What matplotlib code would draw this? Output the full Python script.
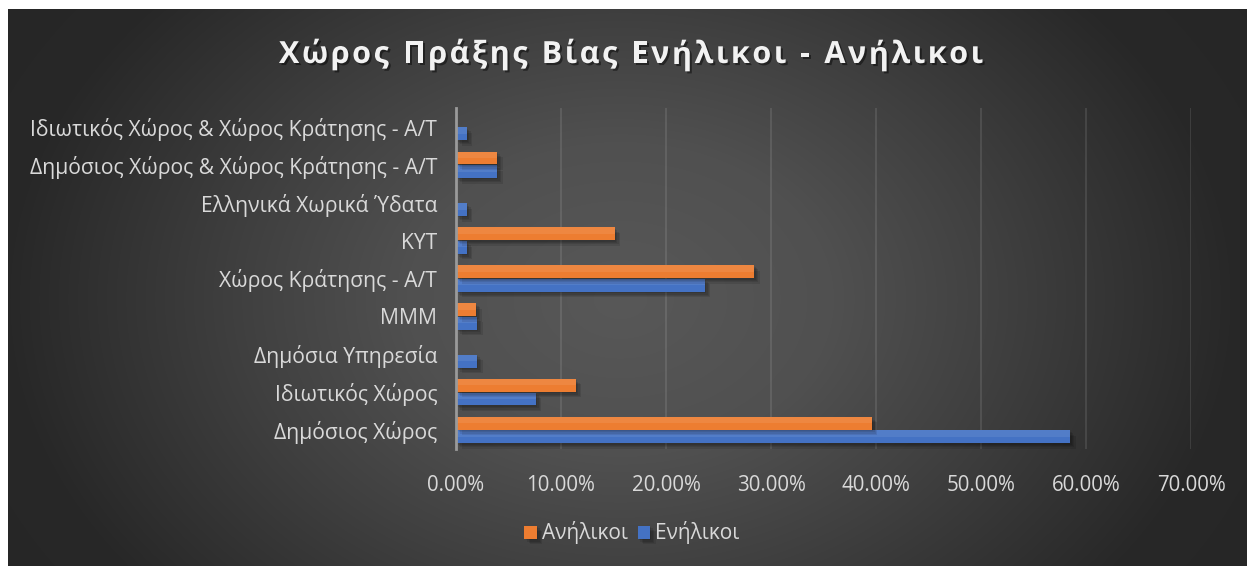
import matplotlib
matplotlib.use('Agg')
import matplotlib.pyplot as plt
import matplotlib.patheffects as pe
from matplotlib.ticker import FuncFormatter
import numpy as np

plt.rcParams['font.family'] = ['Open Sans', 'DejaVu Sans']

# ── data ────────────────────────────────────────────────────────────────────
places = ['Δημόσιος Χώρος', 'Ιδιωτικός Χώρος', 'Δημόσια Υπηρεσία', 'ΜΜΜ',
          'Χώρος Κράτησης - Α/Τ', 'ΚΥΤ', 'Ελληνικά Χωρικά Ύδατα',
          'Δημόσιος Χώρος & Χώρος Κράτησης - Α/Τ',
          'Ιδιωτικός Χώρος & Χώρος Κράτησης - Α/Τ']
adults = [0.585, 0.076, 0.020, 0.020, 0.237, 0.010, 0.010, 0.039, 0.010]   # Ενήλικοι
minors = [0.396, 0.114, 0.0, 0.019, 0.284, 0.151, 0.0, 0.039, 0.0]        # Ανήλικοι
xticks = [0.0, 0.1, 0.2, 0.3, 0.4, 0.5, 0.6, 0.7]
title = 'Χώρος Πράξης Βίας Ενήλικοι - Ανήλικοι'

ORANGE = '#ED7D31'
BLUE = '#4472C4'
TXT = '#D9D9D9'

W, H = 1247, 566
fig = plt.figure(figsize=(W / 100, H / 100), dpi=100, facecolor='white')

# dark radial background of the chart area
bg = fig.add_axes([8 / W, 0, 1 - 8 / W, 1 - 9 / H])
bg.set_axis_off()
yy, xx = np.mgrid[0:557, 0:1239]
r = np.sqrt(((xx - 612) / 610.0) ** 2 + ((yy - 290) / 450.0) ** 2)
shade = np.interp(r, [0, 0.35, 0.62, 1.0, 1.4], [88, 80, 64, 40, 36]) / 255.0
bg.imshow(np.dstack([shade, shade, shade]), aspect='auto', interpolation='bilinear')

ax = fig.add_axes([456 / W, 1 - 449 / H, (1191 - 456) / W, (449 - 108) / H])
ax.set_facecolor('none')

# soft drop shadow: a few stacked translucent offsets
soft = [pe.SimplePatchShadow(offset=(d, -d), shadow_rgbFace='black', alpha=0.1)
        for d in (1, 2, 3, 4)] + [pe.Normal()]

y = np.arange(len(places))
h = 0.34
b1 = ax.barh(y - 0.18, adults, height=h, color=BLUE, label='Ενήλικοι', zorder=3)
b2 = ax.barh(y + 0.18, minors, height=h, color=ORANGE, label='Ανήλικοι', zorder=3)
for bar in list(b1) + list(b2):
    if bar.get_width() > 0:
        bar.set_path_effects(soft)
        # lighter upper half for the glossy look
        x0, y0 = bar.get_xy()
        ax.barh(y0 + h * 0.75, bar.get_width(), height=h * 0.5, color='white',
                alpha=0.08, zorder=3.5)

ax.set_xlim(0, 0.7)
ax.set_ylim(-0.5, len(places) - 0.5)
ax.set_xticks(xticks)
ax.xaxis.set_major_formatter(FuncFormatter(lambda v, p: f'{v * 100:.2f}%'))
ax.set_yticks(y)
ax.set_yticklabels(places)
ax.tick_params(axis='x', length=0, pad=19, labelsize=14.8, colors=TXT)
ax.tick_params(axis='y', length=0, pad=13.5, labelsize=15.2, colors=TXT)
ax.grid(axis='x', color='white', alpha=0.12, linewidth=1.2, zorder=0)
for s in ['top', 'right', 'bottom']:
    ax.spines[s].set_visible(False)
ax.spines['left'].set_color('#9a9a9a')
ax.spines['left'].set_linewidth(2)
ax.spines['left'].set_zorder(4)

# title with letter spacing, laid out char by char
renderer = fig.canvas.get_renderer()
tkw = dict(fontsize=22, fontweight='bold', color='#F2F2F2', va='center', ha='left',
           path_effects=[pe.withSimplePatchShadow(offset=(1.5, -1.5),
                                                  shadow_rgbFace='black', alpha=0.45)])
spacing = 2.6
widths = []
for ch in title:
    t = fig.text(0, 0, ch if ch != ' ' else 'n', **tkw)
    w = t.get_window_extent(renderer).width
    widths.append(w * (0.45 if ch == ' ' else 1.0))
    t.remove()
total = sum(widths) + spacing * (len(title) - 1)
xpos = 631 - total / 2
for ch, w in zip(title, widths):
    if ch != ' ':
        fig.text(xpos / W, 1 - 55 / H, ch, **tkw)
    xpos += w + spacing

fig.legend([b2, b1], ['Ανήλικοι', 'Ενήλικοι'], loc='center',
           bbox_to_anchor=(632 / W, 1 - 533 / H), ncol=2, frameon=False, fontsize=15,
           labelcolor=TXT, handlelength=0.6, handleheight=0.6, handletextpad=0.25,
           columnspacing=0.45)

fig.savefig('out.png', dpi=100, facecolor='white')
